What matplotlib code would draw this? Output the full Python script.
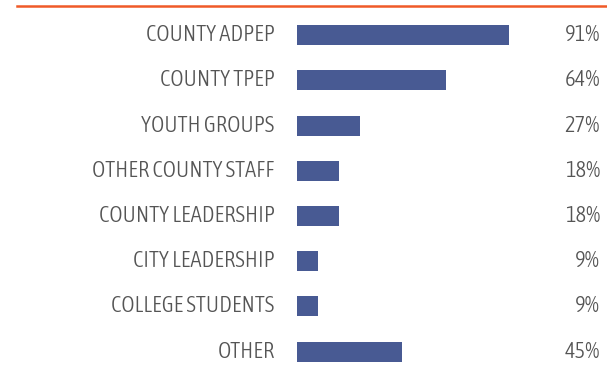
import matplotlib.pyplot as plt
from matplotlib import font_manager
from matplotlib.transforms import blended_transform_factory
from matplotlib.lines import Line2D

groups = ["COUNTY ADPEP", "COUNTY TPEP", "YOUTH GROUPS", "OTHER COUNTY STAFF",
          "COUNTY LEADERSHIP", "CITY LEADERSHIP", "COLLEGE STUDENTS", "OTHER"]
pct = [91, 64, 27, 18, 18, 9, 9, 45]


def narrow_font():
    # look for any condensed / narrow face that is installed, lightest first
    cands = []
    for f in font_manager.fontManager.ttflist:
        tag = (f.name + ' ' + str(f.stretch)).lower()
        if 'condensed' in tag or 'narrow' in tag:
            w = f.weight if isinstance(f.weight, int) else 400
            pref = 0 if f.name in ('Roboto Condensed', 'Asap Condensed') else 1
            cands.append((f.style != 'normal', pref, abs(w - 300), f.name, f.fname))
    if not cands:
        return font_manager.FontProperties(family='DejaVu Sans')
    cands.sort()
    return font_manager.FontProperties(fname=cands[0][4])


fp = narrow_font()

W, H = 607, 367
fig = plt.figure(figsize=(W / 100, H / 100), dpi=100)

# axes placed in pixel terms: 0..100% spans 233 px starting at x=296.7
row = 45.2
top = 35.2 - row / 2
bot = top + row * len(groups)
ax = fig.add_axes([296.7 / W, (H - bot) / H, 233 / W, (bot - top) / H])
ax.set_xlim(0, 100)
ax.set_ylim(len(groups) - 0.5, -0.5)
ax.axis('off')

ypos = list(range(len(groups)))
ax.barh(ypos, pct, height=20 / row, color='#485A93', left=0)

trans = blended_transform_factory(fig.transFigure, ax.transData)
for y, name, v in zip(ypos, groups, pct):
    ax.annotate(name, xy=(0, y), xytext=(-22, 0), textcoords='offset pixels',
                ha='right', va='center', fontproperties=fp, fontsize=16.3, color='#555555')
    ax.text(600 / W, y, f"{v}%", transform=trans, ha='right', va='center',
            fontproperties=fp, fontsize=16.3, color='#555555')

# orange rule across the top
fig.add_artist(Line2D([17 / W, 1], [1 - 6 / H, 1 - 6 / H], transform=fig.transFigure,
                      color='#F05A28', lw=1.8))

fig.savefig('out.png', dpi=100)
